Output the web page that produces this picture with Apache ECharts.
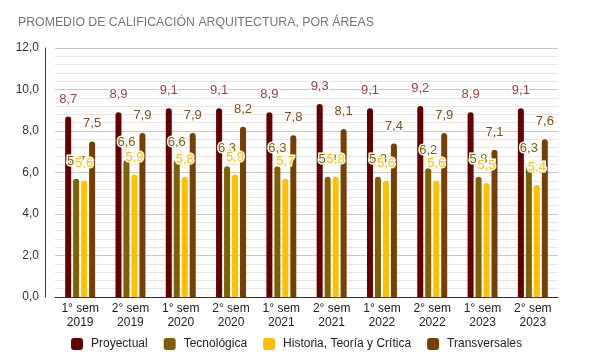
<!DOCTYPE html>
<html><head><meta charset="utf-8">
<script src="https://cdn.jsdelivr.net/npm/echarts@6/dist/echarts.min.js"></script>
<style>html,body{margin:0;padding:0;background:#fff}#c{width:595px;height:363px}</style>
</head><body><div id="c"></div>
<script>
const categories = ['1° sem\n2019','2° sem\n2019','1° sem\n2020','2° sem\n2020','1° sem\n2021','2° sem\n2021','1° sem\n2022','2° sem\n2022','1° sem\n2023','2° sem\n2023'];
const proyectual = [8.7, 8.9, 9.1, 9.1, 8.9, 9.3, 9.1, 9.2, 8.9, 9.1];
const tecnologica = [5.7, 6.6, 6.6, 6.3, 6.3, 5.8, 5.8, 6.2, 5.8, 6.3];
const historia = [5.6, 5.9, 5.8, 5.9, 5.7, 5.8, 5.6, 5.6, 5.5, 5.4];
const transversales = [7.5, 7.9, 7.9, 8.2, 7.8, 8.1, 7.4, 7.9, 7.1, 7.6];
const seriesNames = ['Proyectual','Tecnológica','Historia, Teoría y Crítica','Transversales'];
const colors = ['#660000','#7f6000','#ffc000','#783f04'];
const labelColors = ['#9b3b3b','#7f6000','#ffc000','#7f4a14'];
const yTicks = [0,2,4,6,8,10,12];

const fmt = v => v.toFixed(1).replace('.', ',');
const font = 'Liberation Sans, Arial, sans-serif';
const chart = echarts.init(document.getElementById('c'));
const dataSets = [proyectual, tecnologica, historia, transversales];
chart.setOption({
  animation: false,
  title: {text: 'PROMEDIO DE CALIFICACIÓN ARQUITECTURA, POR ÁREAS', left: 13, top: 12,
    textStyle: {fontFamily: font, fontSize: 12.3, fontWeight: 'normal', color: '#757575'}},
  grid: {left: 55, right: 37, top: 48, bottom: 66},
  xAxis: {type: 'category', data: categories, axisTick: {show: false},
     splitLine: {show: false, lineStyle: {color: 'red'}},
     minorSplitLine: {show: false, lineStyle: {color: 'blue'}},
     splitArea: {show: false},
     axisLine: {show: true, lineStyle: {color: '#333', width: 1}},
     axisLabel: {color: '#222', fontSize: 12, fontFamily: font, lineHeight: 14, margin: 5, interval: 0}},
  yAxis: {type: 'value', min: yTicks[0], max: yTicks[yTicks.length-1], interval: 2, offset: 10,
     axisLine: {show: true, lineStyle: {color: '#333'}},
     axisLabel: {formatter: fmt, color: '#333', fontSize: 12, fontFamily: font, margin: 6},
     splitLine: {lineStyle: {color: '#c8c8c8'}},
     minorSplitLine: {show: true, lineStyle: {color: '#e6e6e6'}}},
  legend: {bottom: 8, left: 66, itemWidth: 12, itemHeight: 12, itemGap: 16,
    icon: 'roundRect', textStyle: {color: '#222', fontSize: 12, fontFamily: font, padding: [0,0,0,3]},
    data: seriesNames},
  series: dataSets.map((d, i) => ({
    name: seriesNames[i], type: 'bar',
    data: d, barWidth: 6, barGap: '33%',
    itemStyle: {color: colors[i], borderRadius: [3,3,0,0]},
    label: {show: true, position: 'top', distance: 11, formatter: p => fmt(p.value),
      color: labelColors[i], fontSize: 13, fontFamily: font,
      textBorderColor: '#fff', textBorderWidth: 3}
  }))
});
</script></body></html>
